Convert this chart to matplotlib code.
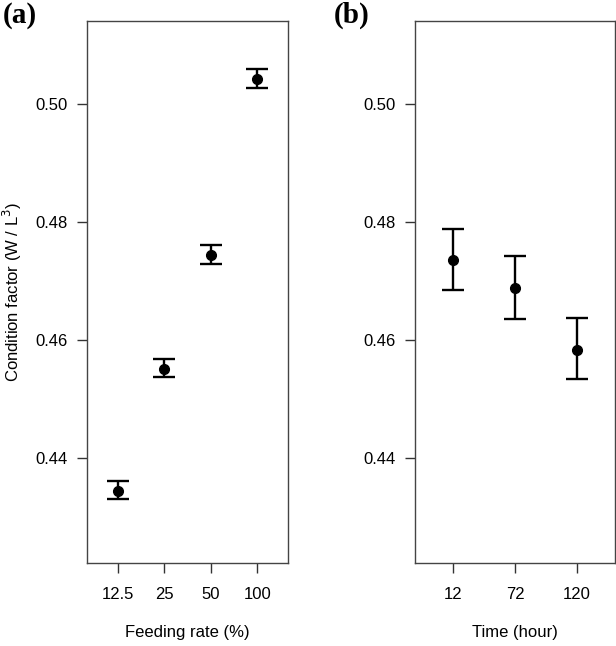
import matplotlib
matplotlib.use("Agg")
import matplotlib.pyplot as plt
import numpy as np

plt.rcParams['font.family'] = ['Liberation Sans', 'DejaVu Sans']

# 資料 (a) 投餵率
feed_labels = ['12.5', '25', '50', '100']
feed_mean = [0.4344, 0.4550, 0.4743, 0.5042]
feed_upper = [0.4361, 0.4568, 0.4760, 0.5059]
feed_lower = [0.4330, 0.4537, 0.4729, 0.5028]

# 資料 (b) 時間
time_labels = ['12', '72', '120']
time_mean = [0.4735, 0.4688, 0.4583]
time_upper = [0.4788, 0.4742, 0.4637]
time_lower = [0.4684, 0.4635, 0.4533]

yticks = [0.44, 0.46, 0.48, 0.50]
ylim = (0.4221, 0.5141)

fig = plt.figure(figsize=(6.16, 6.46), dpi=100)
ax1 = fig.add_axes([0.1412, 0.1285, 0.3263, 0.839])
ax2 = fig.add_axes([0.6737, 0.1285, 0.3247, 0.839])


def draw(ax, labels, mean, upper, lower, xlabel, xlim):
    x = np.arange(1, len(labels) + 1)
    mean = np.array(mean)
    err = [mean - np.array(lower), np.array(upper) - mean]
    ax.errorbar(x, mean, yerr=err, fmt='o', color='black', ms=7,
                elinewidth=1.7, capsize=8, capthick=1.7)
    ax.set_xlim(*xlim)
    ax.set_ylim(*ylim)
    ax.set_xticks(x)
    ax.set_xticklabels(labels)
    ax.set_yticks(yticks)
    ax.set_yticklabels(['%.2f' % v for v in yticks])
    ax.set_xlabel(xlabel, fontsize=12, labelpad=17)
    ax.tick_params(axis='both', length=7, width=1, color='#333333',
                   labelsize=12)
    ax.tick_params(axis='y', pad=7)
    ax.tick_params(axis='x', pad=10)
    for s in ax.spines.values():
        s.set_color('#444444')
        s.set_linewidth(1.0)


draw(ax1, feed_labels, feed_mean, feed_upper, feed_lower,
     'Feeding rate (%)', (0.34, 4.66))
draw(ax2, time_labels, time_mean, time_upper, time_lower,
     'Time (hour)', (0.38, 3.62))

ax1.set_ylabel('Condition factor (W / L$^3$)', fontsize=12, labelpad=8)

fig.text(0.004, 0.9644, '(a)', fontsize=21, fontweight='bold',
         family='Liberation Serif', va='baseline')
fig.text(0.542, 0.9644, '(b)', fontsize=21, fontweight='bold',
         family='Liberation Serif', va='baseline')

plt.savefig('out.png', dpi=100)
